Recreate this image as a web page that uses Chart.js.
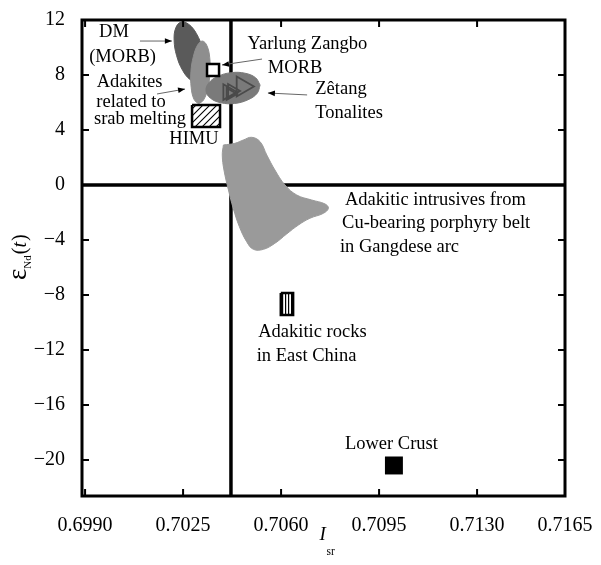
<!DOCTYPE html>
<html>
<head>
<meta charset="utf-8">
<script src="https://cdn.jsdelivr.net/npm/chart.js@4.4.1/dist/chart.umd.min.js"></script>
<style>
  body { margin: 0; background: #fff; }
  canvas { display: block; }
</style>
</head>
<body>
<canvas id="isoChart" width="601" height="565"></canvas>
<script>
const serif = '"Liberation Serif", "Times New Roman", serif';

// axis ranges and tick labels
const xMin = 0.69889, xMax = 0.71614;
const yMin = -22.62, yMax = 12;
const xTickValues = [0.6990, 0.7025, 0.7060, 0.7095, 0.7130, 0.7165];
const xTickLabels = ["0.6990", "0.7025", "0.7060", "0.7095", "0.7130", "0.7165"];
const yTickValues = [12, 8, 4, 0, -4, -8, -12, -16, -20];

// divide lines (Isr ~ 0.7042, eNd = 0)
const srDivide = 0.70421;
const ndZero = 0;

// fields as [Isr, eNd] outline points
const dmMorb = [[0.70303,7.49],[0.70322,7.91],[0.70328,8.81],[0.70319,9.94],[0.70298,11.00],[0.70270,11.69],
  [0.70243,11.85],[0.70224,11.43],[0.70218,10.53],[0.70227,9.40],[0.70248,8.35],[0.70276,7.65]];
const slabAdakites = [[0.70305,5.90],[0.70323,6.18],[0.70338,7.00],[0.70346,8.14],[0.70345,9.29],[0.70335,10.14],
  [0.70319,10.47],[0.70302,10.18],[0.70287,9.36],[0.70278,8.23],[0.70279,7.08],[0.70289,6.23]];
const zetangField = [[0.70525,7.27],[0.70515,6.68],[0.70482,6.20],[0.70434,5.93],[0.70385,5.98],[0.70348,6.31],
  [0.70332,6.84],[0.70342,7.43],[0.70375,7.91],[0.70422,8.17],[0.70471,8.13],[0.70509,7.80]];
const gangdeseField = [[0.70394,2.91],[0.70435,3.03],[0.70465,3.27],[0.70495,3.47],[0.70525,3.15],[0.70549,2.18],
  [0.70578,1.09],[0.70614,0.00],[0.70656,-0.73],[0.70709,-1.09],[0.70757,-1.38],[0.70769,-1.69],[0.70751,-2.06],
  [0.70703,-2.42],[0.70662,-2.91],[0.70620,-3.56],[0.70578,-4.24],[0.70537,-4.68],[0.70501,-4.68],[0.70477,-4.12],
  [0.70451,-3.03],[0.70429,-1.69],[0.70412,-0.36],[0.70396,1.09],[0.70390,2.18]];
const himuBox = [[0.70282,5.82],[0.70382,5.82],[0.70382,4.22],[0.70282,4.22]];
const eastChinaBox = [[0.70599,-7.85],[0.70643,-7.85],[0.70643,-9.45],[0.70599,-9.45]];

// single points
const yzMorb = [[0.70357, 8.36]];
const lowerCrust = [[0.71003, -20.40]];
const zetangSamples = [[0.70410,6.76],[0.70425,6.84],[0.70462,7.16],[0.70418,6.62]];
const zetangSizes = [9, 8, 11.5, 7];

// annotations
const notes = [
  {text: "DM", x: 0.70003, y: 11.13, align: "center"},
  {text: "(MORB)", x: 0.70034, y: 9.31, align: "center"},
  {text: "Adakites", x: 0.70059, y: 7.49, align: "center"},
  {text: "related to", x: 0.70064, y: 6.04, align: "center"},
  {text: "srab melting", x: 0.70096, y: 4.80, align: "center"},
  {text: "HIMU", x: 0.70289, y: 3.35, align: "center"},
  {text: "Yarlung Zangbo", x: 0.70694, y: 10.25, align: "center"},
  {text: "MORB", x: 0.70650, y: 8.51, align: "center"},
  {text: "Zêtang", x: 0.70814, y: 6.98, align: "center"},
  {text: "Tonalites", x: 0.70843, y: 5.24, align: "center"},
  {text: "Adakitic intrusives from", x: 0.70828, y: -1.09, align: "left"},
  {text: "Cu-bearing porphyry belt", x: 0.70818, y: -2.76, align: "left"},
  {text: "in Gangdese arc", x: 0.70810, y: -4.51, align: "left"},
  {text: "Adakitic rocks", x: 0.70712, y: -10.69, align: "center"},
  {text: "in East China", x: 0.70691, y: -12.44, align: "center"},
  {text: "Lower Crust", x: 0.70994, y: -18.84, align: "center"}
];
const arrows = [
  [0.70096, 10.47, 0.70210, 10.47],
  [0.70157, 6.62, 0.70257, 6.98],
  [0.70532, 9.16, 0.70389, 8.73],
  [0.70693, 6.55, 0.70553, 6.69]
];

const pts = arr => arr.map(p => ({x: p[0], y: p[1]}));
const closed = arr => pts(arr.concat([arr[0]]));

function hatch(kind) {
  const c = document.createElement('canvas');
  const g = c.getContext('2d');
  if (kind === 'diag') {
    c.width = 7; c.height = 7;
    g.fillStyle = '#fff'; g.fillRect(0, 0, 7, 7);
    g.strokeStyle = '#000'; g.lineWidth = 1.1;
    g.beginPath();
    g.moveTo(-1, 8); g.lineTo(8, -1);
    g.moveTo(-1, 1); g.lineTo(1, -1);
    g.moveTo(6, 8); g.lineTo(8, 6);
    g.stroke();
  } else {
    c.width = 3; c.height = 3;
    g.fillStyle = '#fff'; g.fillRect(0, 0, 3, 3);
    g.fillStyle = '#000'; g.fillRect(0, 0, 1.2, 3);
  }
  return g.createPattern(c, 'repeat');
}

function field(data, color, order) {
  return {data: closed(data), showLine: true, fill: 'shape', backgroundColor: color, borderColor: color,
    borderWidth: 1, tension: 0.4, pointRadius: 0, order: order};
}

const decor = {
  id: 'decor',
  afterDatasetsDraw(chart) {
    const {ctx, chartArea: a, scales: {x, y}} = chart;
    ctx.save();
    ctx.strokeStyle = '#000';
    ctx.lineWidth = 2;
    ctx.beginPath();
    x.ticks.forEach(t => {
      const px = x.getPixelForValue(t.value);
      if (px - a.left < 3 || a.right - px < 3) return;
      ctx.moveTo(px, a.bottom); ctx.lineTo(px, a.bottom - 7);
      ctx.moveTo(px, a.top); ctx.lineTo(px, a.top + 7);
    });
    y.ticks.forEach(t => {
      const py = y.getPixelForValue(t.value);
      if (py - a.top < 3 || a.bottom - py < 3) return;
      ctx.moveTo(a.left, py); ctx.lineTo(a.left + 7, py);
      ctx.moveTo(a.right, py); ctx.lineTo(a.right - 7, py);
    });
    ctx.stroke();
    ctx.lineWidth = 3;
    ctx.strokeRect(a.left, a.top, a.right - a.left, a.bottom - a.top);

    // arrows
    arrows.forEach(([x1, y1, x2, y2]) => {
      const p1 = [x.getPixelForValue(x1), y.getPixelForValue(y1)];
      const p2 = [x.getPixelForValue(x2), y.getPixelForValue(y2)];
      const ang = Math.atan2(p2[1] - p1[1], p2[0] - p1[0]);
      ctx.strokeStyle = '#666'; ctx.lineWidth = 1;
      ctx.beginPath(); ctx.moveTo(p1[0], p1[1]); ctx.lineTo(p2[0], p2[1]); ctx.stroke();
      ctx.fillStyle = '#000';
      ctx.beginPath();
      ctx.moveTo(p2[0], p2[1]);
      ctx.lineTo(p2[0] - 7 * Math.cos(ang) + 2.8 * Math.sin(ang), p2[1] - 7 * Math.sin(ang) - 2.8 * Math.cos(ang));
      ctx.lineTo(p2[0] - 7 * Math.cos(ang) - 2.8 * Math.sin(ang), p2[1] - 7 * Math.sin(ang) + 2.8 * Math.cos(ang));
      ctx.closePath(); ctx.fill();
    });

    // annotations
    ctx.fillStyle = '#000';
    ctx.font = '18.5px ' + serif;
    ctx.textBaseline = 'middle';
    notes.forEach(n => {
      ctx.textAlign = n.align;
      ctx.fillText(n.text, x.getPixelForValue(n.x), y.getPixelForValue(n.y));
    });

    // x title: I_sr
    const cx = (a.left + a.right) / 2;
    ctx.textAlign = 'left';
    ctx.textBaseline = 'alphabetic';
    ctx.font = 'italic 19px ' + serif;
    ctx.fillText('I', cx - 4, 540);
    ctx.font = '11.5px ' + serif;
    ctx.fillText('sr', cx + 3, 555);

    // y title: eNd(t)
    ctx.translate(26, (a.top + a.bottom) / 2 + 22);
    ctx.rotate(-Math.PI / 2);
    let off = 0;
    ctx.font = '27px ' + serif;
    ctx.fillText('\u03b5', off, 0); off += ctx.measureText('\u03b5').width;
    ctx.font = '11px ' + serif;
    ctx.fillText('Nd', off, 5); off += ctx.measureText('Nd').width + 1;
    ctx.font = '20px ' + serif;
    ctx.fillText('(', off, 0); off += ctx.measureText('(').width;
    ctx.font = 'italic 20px ' + serif;
    ctx.fillText('t', off, 0); off += ctx.measureText('t').width + 1;
    ctx.font = '20px ' + serif;
    ctx.fillText(')', off, 0);
    ctx.restore();
  }
};

const ctx = document.getElementById('isoChart').getContext('2d');
const isoChart = new Chart(ctx, {
  type: 'scatter',
  data: {
    datasets: [
      {data: pts([[srDivide, yMin], [srDivide, yMax]]), showLine: true, borderColor: '#000', borderWidth: 3.5, pointRadius: 0, order: 20},
      {data: pts([[xMin, ndZero], [xMax, ndZero]]), showLine: true, borderColor: '#000', borderWidth: 3.5, pointRadius: 0, order: 20},
      field(gangdeseField, '#9a9a9a', 12),
      field(dmMorb, '#5a5a5a', 11),
      field(slabAdakites, '#8e8e8e', 10),
      field(zetangField, '#7a7a7a', 9),
      {data: closed(himuBox), showLine: true, fill: 'shape', backgroundColor: hatch('diag'), borderColor: '#000',
        borderWidth: 2.5, tension: 0, pointRadius: 0, order: 8},
      {data: closed(eastChinaBox), showLine: true, fill: 'shape', backgroundColor: hatch('vert'), borderColor: '#000',
        borderWidth: 2.5, tension: 0, pointRadius: 0, order: 8},
      {data: pts(yzMorb), pointStyle: 'rect', pointRadius: 8.5, backgroundColor: '#fff', borderColor: '#000',
        borderWidth: 2.5, order: 7},
      {data: pts(zetangSamples), pointStyle: 'triangle', rotation: 90, pointRadius: zetangSizes,
        backgroundColor: 'rgba(0,0,0,0)', borderColor: '#4a4a4a', borderWidth: 1.8, order: 6},
      {data: pts(lowerCrust), pointStyle: 'rect', pointRadius: 12.7, backgroundColor: '#000', borderColor: '#000',
        borderWidth: 0, order: 6}
    ]
  },
  options: {
    responsive: false,
    animation: false,
    events: [],
    layout: {padding: {top: 20, right: 36, bottom: 0, left: 0}},
    plugins: {legend: {display: false}, tooltip: {enabled: false}},
    scales: {
      x: {
        type: 'linear', min: xMin, max: xMax,
        grid: {display: false}, border: {display: false},
        afterBuildTicks: s => { s.ticks = xTickValues.map(v => ({value: Math.min(v, xMax)})); },
        afterFit: s => { s.height = 69; s.paddingLeft = 0; s.paddingRight = 0; },
        ticks: {
          color: '#000', font: {family: serif, size: 20}, padding: 10, maxRotation: 0, autoSkip: false,
          callback: (v, i) => xTickLabels[i]
        }
      },
      y: {
        type: 'linear', min: yMin, max: yMax,
        grid: {display: false}, border: {display: false},
        afterBuildTicks: s => { s.ticks = yTickValues.map(v => ({value: v})); },
        afterFit: s => { s.width = 82; s.paddingTop = 0; s.paddingBottom = 0; },
        ticks: {
          color: '#000', font: {family: serif, size: 20}, padding: 9, autoSkip: false,
          callback: v => v < 0 ? '\u2212' + Math.abs(v) : String(v)
        }
      }
    }
  },
  plugins: [decor]
});
</script>
</body>
</html>
